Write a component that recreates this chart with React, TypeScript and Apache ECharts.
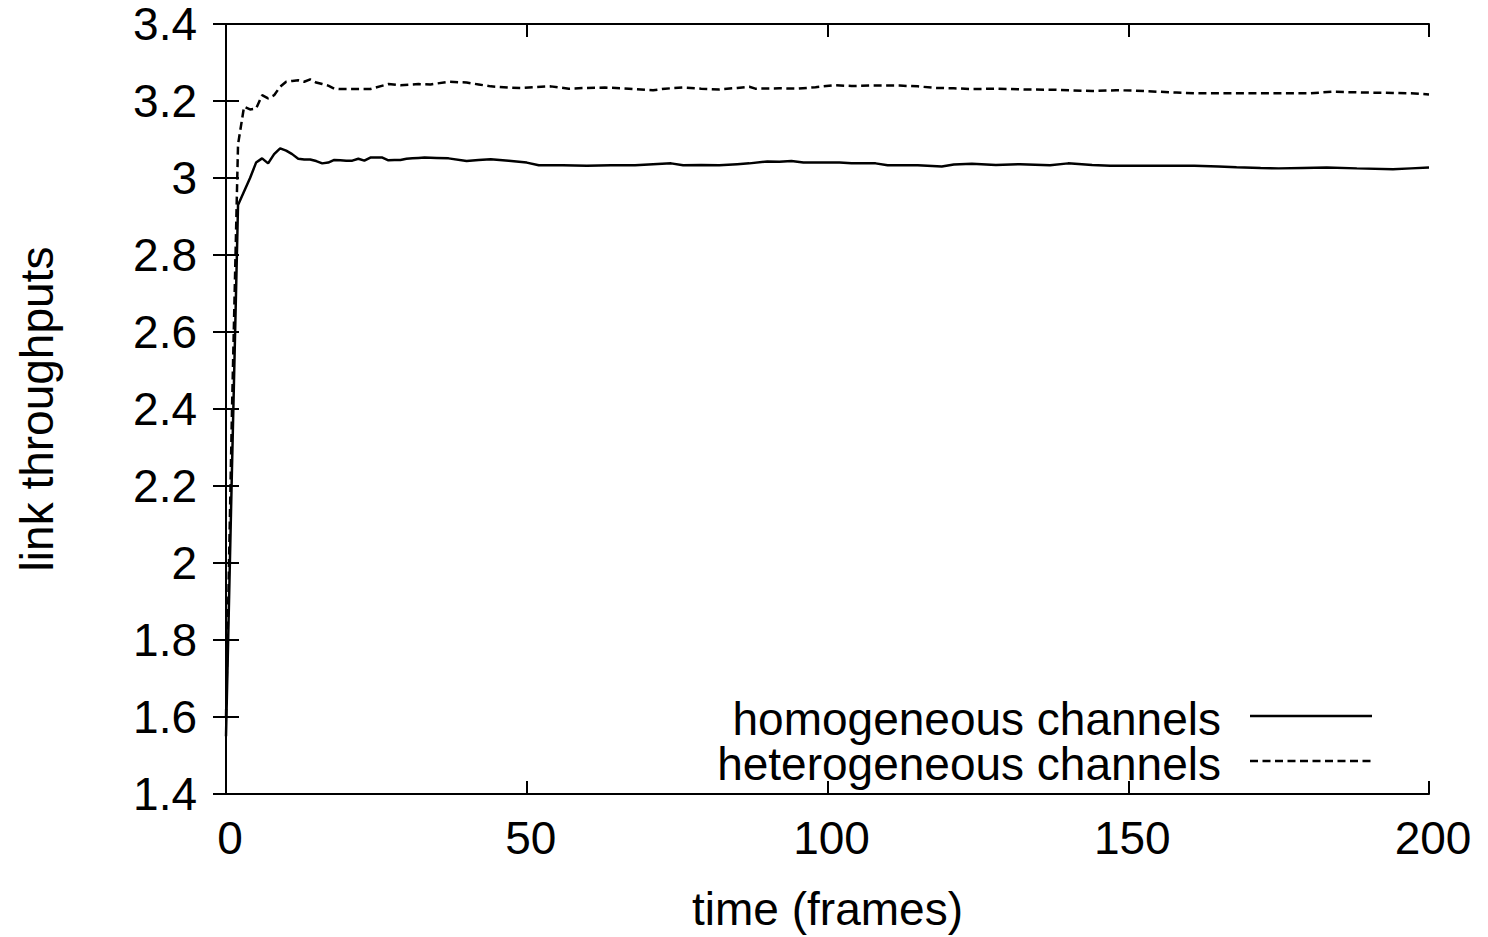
import React, { useEffect, useRef } from "react";
import * as echarts from "echarts";

const xTicks = [0, 50, 100, 150, 200];
const yTicks = [1.4, 1.6, 1.8, 2, 2.2, 2.4, 2.6, 2.8, 3, 3.2, 3.4];

const homoX = [0, 1, 2, 3, 4, 5, 6, 7, 8, 9, 10, 11, 12, 13, 14, 15, 16, 17, 18, 19, 20, 21, 22, 23, 24, 25, 26, 27, 28, 29, 30, 31, 32, 33, 35, 37, 40, 42, 44, 47, 50, 52, 56, 60, 64, 68, 71, 74, 76, 79, 82, 85, 87, 90, 92, 94, 96, 100, 102, 104, 108, 110, 115, 119, 121, 124, 128, 132, 137, 140, 144, 147, 151, 155, 161, 165, 168, 172, 175, 179, 183, 188, 194, 197, 200];
const homoY = [1.55, 2.25, 2.93, 2.965, 3.0, 3.04, 3.051, 3.038, 3.062, 3.077, 3.071, 3.062, 3.05, 3.048, 3.048, 3.044, 3.038, 3.04, 3.047, 3.046, 3.045, 3.045, 3.05, 3.045, 3.053, 3.053, 3.053, 3.046, 3.047, 3.047, 3.05, 3.051, 3.052, 3.053, 3.052, 3.051, 3.044, 3.047, 3.049, 3.045, 3.04, 3.033, 3.033, 3.032, 3.033, 3.033, 3.036, 3.038, 3.033, 3.034, 3.033, 3.036, 3.038, 3.043, 3.042, 3.044, 3.04, 3.04, 3.04, 3.038, 3.038, 3.033, 3.033, 3.03, 3.035, 3.037, 3.034, 3.036, 3.033, 3.038, 3.034, 3.032, 3.032, 3.032, 3.032, 3.03, 3.028, 3.026, 3.025, 3.026, 3.027, 3.025, 3.023, 3.025, 3.027];

const heteroX = [0, 1, 2, 3, 4, 5, 6, 7, 8, 9, 10, 11, 12, 13, 14, 15, 16, 17, 18, 19, 21, 24, 27, 29, 32, 34, 37, 40, 42, 44, 47, 49, 51, 54, 57, 60, 63, 67, 71, 73, 76, 79, 82, 85, 87, 88, 92, 95, 98, 101, 104, 107, 112, 115, 118, 121, 124, 128, 133, 138, 144, 148, 151, 155, 158, 161, 166, 170, 175, 180, 184, 189, 194, 197, 200];
const heteroY = [1.6, 2.4, 3.087, 3.185, 3.178, 3.18, 3.215, 3.207, 3.215, 3.237, 3.25, 3.252, 3.254, 3.25, 3.256, 3.248, 3.244, 3.24, 3.232, 3.231, 3.231, 3.231, 3.244, 3.241, 3.244, 3.243, 3.25, 3.248, 3.243, 3.238, 3.235, 3.234, 3.236, 3.238, 3.232, 3.234, 3.235, 3.232, 3.228, 3.232, 3.235, 3.232, 3.23, 3.234, 3.237, 3.232, 3.233, 3.232, 3.236, 3.241, 3.239, 3.24, 3.24, 3.238, 3.234, 3.233, 3.231, 3.232, 3.23, 3.229, 3.226, 3.228, 3.227, 3.224, 3.222, 3.22, 3.22, 3.22, 3.22, 3.22, 3.224, 3.222, 3.221, 3.22, 3.217];

const seriesNames = ["homogeneous channels", "heterogeneous channels"];
const xAxisName = "time (frames)";
const yAxisName = "link throughputs";

const FONT = "'Liberation Sans', Arial, Helvetica, sans-serif";
const FS = 46;

export default function App() {
  const ref = useRef<HTMLDivElement>(null);

  useEffect(() => {
    if (!ref.current) return;
    const chart = echarts.init(ref.current, null, { renderer: "svg" });
    const zip = (xs: number[], ys: number[]) => xs.map((x, i) => [x, ys[i]]);
    const axisLine = { show: true, lineStyle: { color: "#000", width: 2 } };
    const tick = { show: true, inside: true, length: 13, lineStyle: { color: "#000", width: 2 } };
    const labelStyle = { color: "#000", fontSize: FS, fontFamily: FONT, lineHeight: 40 };
    const dash = [8, 4.5];

    const legendY1 = 716;
    const legendY2 = 761;
    chart.setOption({
      animation: false,
      backgroundColor: "#fff",
      grid: { left: 226, right: 59, top: 24, bottom: 141, containLabel: false },
      xAxis: [
        {
          type: "value",
          min: xTicks[0],
          max: xTicks[xTicks.length - 1],
          interval: 50,
          position: "bottom",
          axisLine,
          axisTick: tick,
          splitLine: { show: false },
          axisLabel: { ...labelStyle, margin: 24, padding: [0, 0, 0, 8] },
          name: xAxisName,
          nameLocation: "middle",
          nameGap: 92,
          nameTextStyle: { color: "#000", fontSize: FS, fontFamily: FONT },
        },
        {
          type: "value",
          min: xTicks[0],
          max: xTicks[xTicks.length - 1],
          interval: 50,
          position: "top",
          axisLine,
          axisTick: tick,
          splitLine: { show: false },
          axisLabel: { show: false },
        },
      ],
      yAxis: [
        {
          type: "value",
          min: yTicks[0],
          max: yTicks[yTicks.length - 1],
          interval: 0.2,
          position: "left",
          axisLine,
          axisTick: tick,
          splitLine: { show: false },
          axisLabel: { ...labelStyle, margin: 29 },
          name: yAxisName,
          nameLocation: "middle",
          nameGap: 166,
          nameTextStyle: { color: "#000", fontSize: FS, fontFamily: FONT },
        },
        {
          type: "value",
          min: yTicks[0],
          max: yTicks[yTicks.length - 1],
          interval: 0.2,
          position: "right",
          axisLine,
          axisTick: tick,
          splitLine: { show: false },
          axisLabel: { show: false },
        },
      ],
      series: [
        {
          name: seriesNames[0],
          type: "line",
          data: zip(homoX, homoY),
          showSymbol: false,
          symbol: "none",
          lineStyle: { color: "#000", width: 2.5 },
        },
        {
          name: seriesNames[1],
          type: "line",
          data: zip(heteroX, heteroY),
          showSymbol: false,
          symbol: "none",
          lineStyle: { color: "#000", width: 2.5, type: dash },
        },
      ],
      graphic: [
        {
          type: "text",
          right: 1488 - 1221,
          top: legendY1 - 20,
          style: { text: seriesNames[0], fill: "#000", font: `${FS}px ${FONT}`, lineHeight: 40, textAlign: "right" },
        },
        {
          type: "text",
          right: 1488 - 1221,
          top: legendY2 - 20,
          style: { text: seriesNames[1], fill: "#000", font: `${FS}px ${FONT}`, lineHeight: 40, textAlign: "right" },
        },
        {
          type: "line",
          shape: { x1: 1250, y1: legendY1, x2: 1372, y2: legendY1 },
          style: { stroke: "#000", lineWidth: 2.5 },
        },
        {
          type: "line",
          shape: { x1: 1250, y1: legendY2, x2: 1372, y2: legendY2 },
          style: { stroke: "#000", lineWidth: 2.5, lineDash: dash },
        },
      ],
    });
    return () => chart.dispose();
  }, []);

  return (
    <div
      ref={ref}
      style={{ position: "fixed", left: 0, top: 0, width: 1488, height: 937, background: "#fff" }}
    />
  );
}
